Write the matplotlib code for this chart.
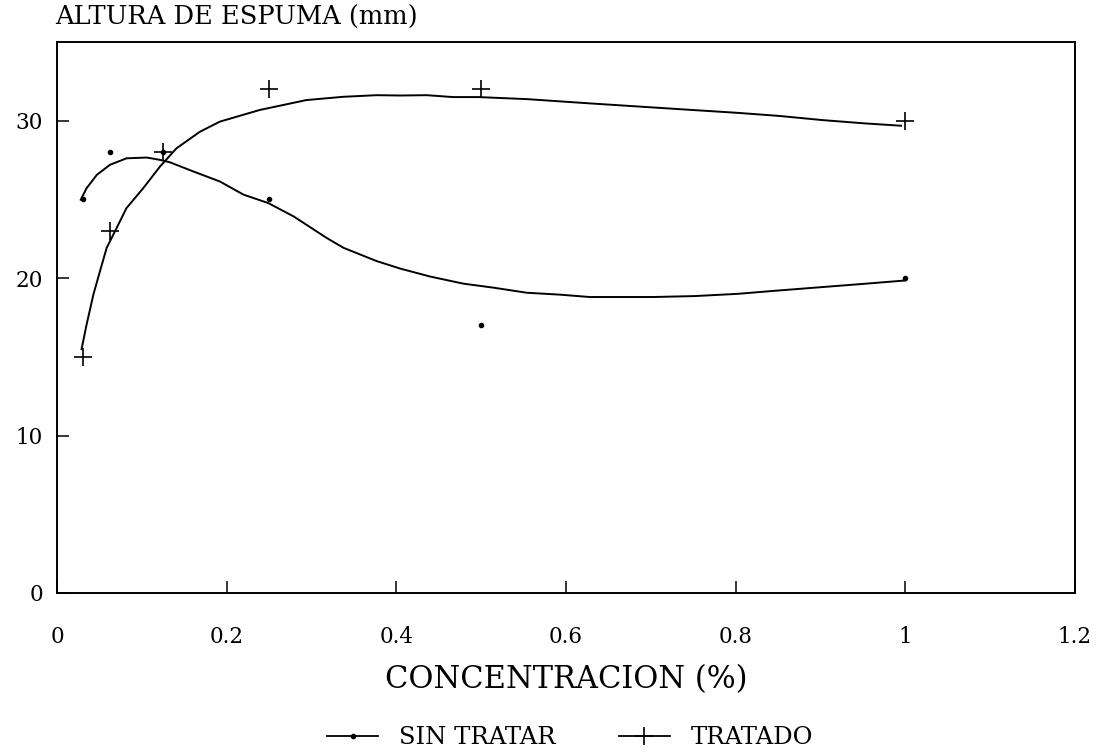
import numpy as np
import matplotlib
matplotlib.use('Agg')
import matplotlib.pyplot as plt
from matplotlib.lines import Line2D

plt.rcParams['font.family'] = ['DejaVu Serif']

# concentraciones (serie de diluciones)
conc = [0.03125, 0.0625, 0.125, 0.25, 0.5, 1.0]

# altura de espuma medida (mm)
sin_tratar = [25, 28, 28, 25, 17, 20]
tratado = [15, 23, 28, 32, 32, 30]

# curvas de ajuste
fit_x_sin = [0.028, 0.035, 0.047, 0.0625, 0.082, 0.106, 0.1215, 0.133, 0.161, 0.192,
             0.22, 0.249, 0.279, 0.318, 0.338, 0.377, 0.405, 0.44, 0.479, 0.515,
             0.554, 0.593, 0.628, 0.703, 0.752, 0.802, 0.852, 0.902, 0.952, 1.0]
fit_y_sin = [24.98, 25.72, 26.56, 27.2, 27.61, 27.66, 27.51, 27.36, 26.77, 26.14,
             25.3, 24.77, 23.92, 22.55, 21.92, 21.08, 20.6, 20.1, 19.65, 19.39,
             19.07, 18.95, 18.8, 18.8, 18.86, 19.0, 19.22, 19.43, 19.64, 19.85]

fit_x_tra = [0.029, 0.035, 0.043, 0.0507, 0.0586, 0.0664, 0.082, 0.1018, 0.1215, 0.141,
             0.1686, 0.192, 0.239, 0.294, 0.338, 0.377, 0.405, 0.436, 0.467, 0.497,
             0.554, 0.628, 0.703, 0.752, 0.802, 0.852, 0.902, 0.952, 0.995]
fit_y_tra = [15.49, 17.07, 18.97, 20.44, 21.92, 22.76, 24.45, 25.72, 27.09, 28.25,
             29.3, 29.94, 30.68, 31.31, 31.52, 31.62, 31.6, 31.62, 31.5, 31.5,
             31.37, 31.1, 30.84, 30.67, 30.5, 30.3, 30.04, 29.83, 29.68]

fig = plt.figure(figsize=(11.04, 7.55), dpi=100)
ax = fig.add_axes([0.0516, 0.2146, 0.922, 0.7298])

ax.plot(fit_x_sin, fit_y_sin, color='black', lw=1.4)
ax.plot(fit_x_tra, fit_y_tra, color='black', lw=1.4)
ax.plot(conc, sin_tratar, 'o', color='black', ms=3, ls='none')
ax.plot(conc, tratado, '+', color='black', ms=12.5, mew=1.2, ls='none')

ax.set_xlim(0, 1.2)
ax.set_ylim(0, 35)
ax.set_xticks([0, 0.2, 0.4, 0.6, 0.8, 1.0, 1.2])
ax.set_xticklabels(['0', '0.2', '0.4', '0.6', '0.8', '1', '1.2'])
ax.set_yticks([0, 10, 20, 30])

ax.tick_params(axis='x', direction='in', length=8.5, width=1.1, pad=24, labelsize=15.5)
ax.tick_params(axis='y', direction='in', length=8.5, width=1.1, pad=10, labelsize=15.5)
for s in ax.spines.values():
    s.set_linewidth(1.4)

fig.text(0.05, 0.967, 'ALTURA DE ESPUMA (mm)', fontsize=18.5, ha='left', va='baseline')
fig.text(566 / 1104, 1 - 680 / 755, 'CONCENTRACION (%)', fontsize=22, ha='center', va='center')

handles = [Line2D([], [], color='black', lw=1.3, marker='o', ms=3),
           Line2D([], [], color='black', lw=1.3, marker='+', ms=12.5, mew=1.2)]
fig.legend(handles, ['SIN TRATAR', 'TRATADO'], loc='center',
           bbox_to_anchor=(570 / 1104, 1 - 738 / 755), ncol=2, frameon=False,
           fontsize=17.5, handlelength=2.1, handletextpad=0.85, columnspacing=2.6)

fig.savefig('out.png', dpi=100)
